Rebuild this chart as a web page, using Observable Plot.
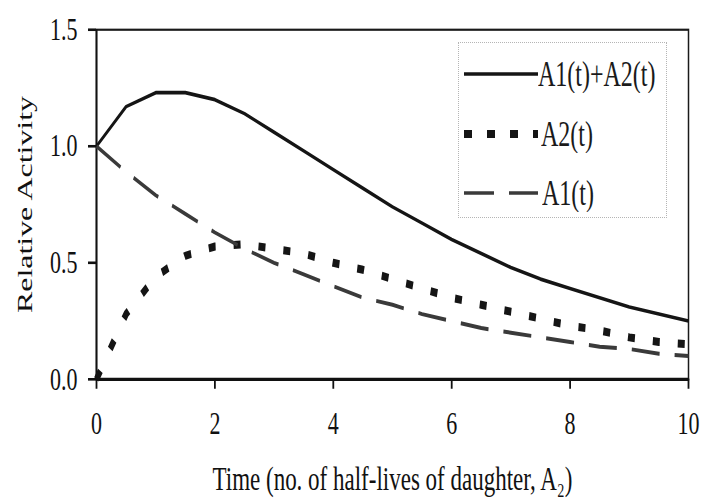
<!DOCTYPE html>
<html>
<head>
<meta charset="utf-8">
<script src="https://cdn.jsdelivr.net/npm/d3@7"></script>
<script src="https://cdn.jsdelivr.net/npm/@observablehq/plot@0.6"></script>
<style>
  body { margin: 0; background: #fff; }
  #wrap { position: relative; width: 701px; height: 499px; overflow: hidden; background: #fff; }
  .legend { position: absolute; left: 458px; top: 42px; width: 209px; height: 176px;
            border: 1px dotted #b5b5b5; box-sizing: border-box; }
  .legend .sample { position: absolute; left: 3px; }
  .legend .lab { position: absolute; font-family: 'Liberation Serif', 'DejaVu Serif', serif;
                 font-size: 24px; line-height: 24px; color: #1a1a1a; white-space: nowrap;
                 transform: scaleY(1.45); transform-origin: left center; }
</style>
</head>
<body>
<div id="wrap"></div>
<script>
// ---- data ----
const times = [0, 0.5, 1, 1.5, 2, 2.5, 3, 3.5, 4, 4.5, 5, 5.5, 6, 6.5, 7, 7.5, 8, 8.5, 9, 9.5, 10];
const sumA  = [1.00, 1.17, 1.23, 1.23, 1.20, 1.14, 1.06, 0.98, 0.90, 0.82, 0.74, 0.67, 0.60, 0.54, 0.48, 0.43, 0.39, 0.35, 0.31, 0.28, 0.25];
const a2    = [0.00, 0.28, 0.44, 0.53, 0.57, 0.58, 0.56, 0.54, 0.50, 0.47, 0.43, 0.39, 0.35, 0.32, 0.29, 0.26, 0.23, 0.21, 0.18, 0.16, 0.15];
const a1    = [1.00, 0.89, 0.79, 0.71, 0.63, 0.56, 0.50, 0.45, 0.40, 0.35, 0.32, 0.28, 0.25, 0.22, 0.20, 0.18, 0.16, 0.14, 0.13, 0.11, 0.10];
const seriesNames = ["A1(t)+A2(t)", "A2(t)", "A1(t)"];
const xTicks = [0, 2, 4, 6, 8, 10];
const yTicks = [0, 0.5, 1.0, 1.5];
const xLabel = "Time (no. of half-lives of daughter, A\u2082)";
const yLabel = "Relative Activity";

const rows = times.map((t, i) => ({t, sum: sumA[i], a2: a2[i], a1: a1[i]}));

// the reference is vertically stretched; draw at a squashed height then stretch
const W = 701, H = 499, K = 1.45, H0 = Math.round(H / K);
const font = "'Liberation Serif', 'DejaVu Serif', serif";

const styles = {
  [seriesNames[0]]: {stroke: "#151515", strokeWidth: 2.5, dash: null},
  [seriesNames[1]]: {stroke: "#151515", strokeWidth: 5.5, dash: "7 18"},
  [seriesNames[2]]: {stroke: "#3a3a3a", strokeWidth: 2.7, dash: "28 15"}
};
const keys = ["sum", "a2", "a1"];

const chart = Plot.plot({
  width: W, height: H0,
  marginLeft: 96, marginRight: 13, marginTop: 20, marginBottom: H0 - 261,
  style: {fontFamily: font, background: "#fff", color: "#111", overflow: "visible"},
  x: {domain: [0, 10]},
  y: {domain: [0, 1.5]},
  marks: [
    Plot.frame({stroke: "#1a1a1a", strokeWidth: 1.5}),
    Plot.ruleY([0], {stroke: "#111", strokeWidth: 2.2}),
    Plot.ruleX([0], {stroke: "#111", strokeWidth: 1.8}),
    Plot.axisX({ticks: xTicks, tickSize: 7, tickPadding: 15, fontSize: 22, label: null, strokeWidth: 1.8}),
    Plot.axisY({ticks: yTicks, tickFormat: d3.format(".1f"), tickSize: 8, tickPadding: 11, fontSize: 22, label: null, strokeWidth: 1.8}),
    Plot.text([xLabel], {text: d => d, frameAnchor: "bottom", dy: 76, fontSize: 23, fill: "#111"}),
    Plot.text([yLabel], {text: d => d, frameAnchor: "left", textAnchor: "middle", lineAnchor: "middle", rotate: -90, dx: -72, fontSize: 22, fill: "#111"}),
    ...seriesNames.map((name, i) => Plot.line(rows, {
      x: "t", y: keys[i],
      stroke: styles[name].stroke, strokeWidth: styles[name].strokeWidth,
      strokeDasharray: styles[name].dash, strokeLinejoin: "round", strokeLinecap: "butt"
    }))
  ]
});
chart.setAttribute("width", W);
chart.setAttribute("height", H);
chart.setAttribute("viewBox", `0 0 ${W} ${H0}`);
chart.setAttribute("preserveAspectRatio", "none");
chart.style.setProperty("width", W + "px");
chart.style.setProperty("height", H + "px");
chart.style.setProperty("max-width", "none");
const wrap = document.getElementById("wrap");
wrap.appendChild(chart);

// legend box overlay
const legend = document.createElement("div");
legend.className = "legend";
const rowY = [31, 91, 150];
const labX = [79, 82, 83];
seriesNames.forEach((name, i) => {
  const st = styles[name];
  const s = d3.create("svg").attr("class", "sample").attr("width", 78).attr("height", 20)
    .style("top", (rowY[i] - 10) + "px");
  s.append("line").attr("x1", 2).attr("x2", 76).attr("y1", 10).attr("y2", 10)
    .attr("stroke", st.stroke)
    .attr("stroke-width", i === 0 ? 3.5 : i === 1 ? 8 : 3.5)
    .attr("stroke-dasharray", i === 0 ? null : i === 1 ? "8 15" : "30 15");
  legend.appendChild(s.node());
  const lab = document.createElement("span");
  lab.className = "lab";
  lab.textContent = name;
  lab.style.left = labX[i] + "px";
  lab.style.top = (rowY[i] - 12) + "px";
  legend.appendChild(lab);
});
wrap.appendChild(legend);
</script>
</body>
</html>
